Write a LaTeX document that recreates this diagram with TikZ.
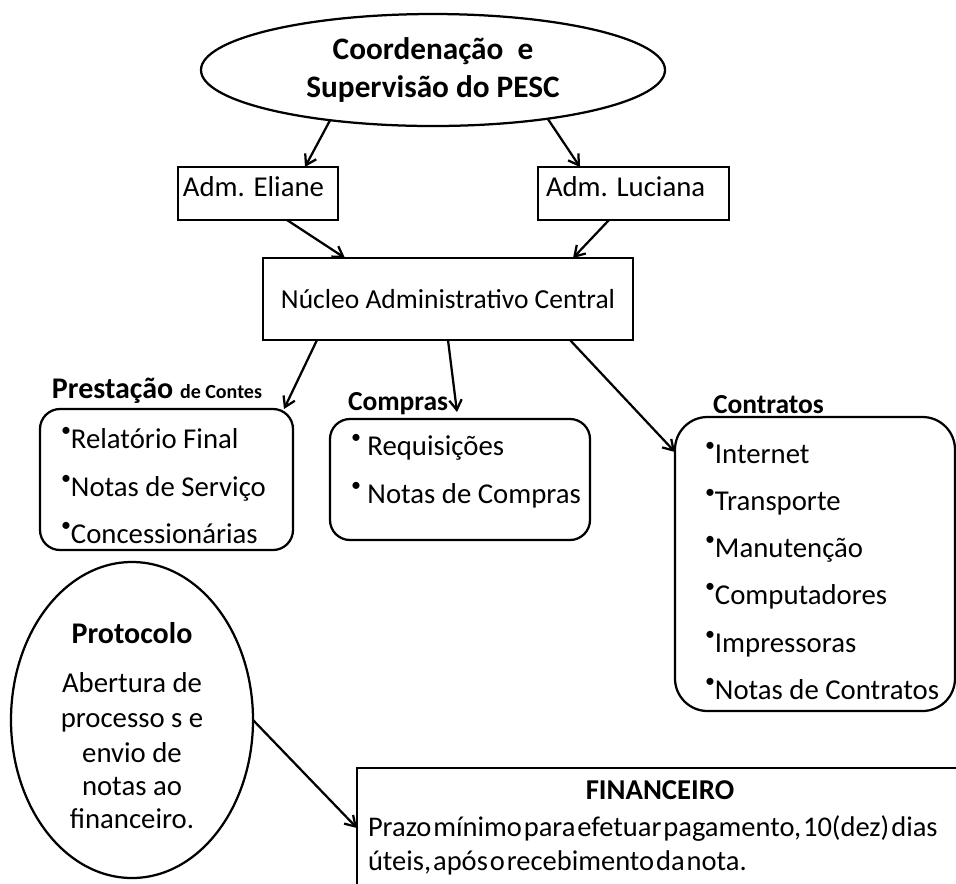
\documentclass[tikz,border=0pt]{standalone}
\usepackage{fontspec}
\setmainfont{Carlito}
\newfontfamily\tightfont[WordSpace=0.3]{Carlito}
\usetikzlibrary{shapes.geometric,arrows.meta}
\def\pxu{0.4pt}
\newcommand\mybul{{\fontsize{8pt}{8pt}\selectfont\raisebox{4.5pt}{•}}}
\begin{document}
\begin{tikzpicture}[x=0.4pt,y=-0.4pt,line width=0.9pt,
  box/.style={draw,rectangle,inner sep=0pt,outer sep=0pt},
  rbox/.style={draw,rectangle,rounded corners=#1,inner sep=0pt,outer sep=0pt},
  ell/.style={draw,ellipse,inner sep=0pt,outer sep=0pt},
  txt/.style={inner sep=0pt,outer sep=0pt,anchor=base west,font=\fontsize{11.5pt}{13.8pt}\selectfont},
  ctxt/.style={inner sep=0pt,outer sep=0pt,anchor=base,font=\fontsize{11.5pt}{13.8pt}\selectfont},
  btxt/.style={inner sep=0pt,outer sep=0pt,anchor=base west,font=\fontsize{11pt}{13.2pt}\selectfont\bfseries},
  arr/.style={-{Straight Barb[length=4pt,width=5pt]}}]
\clip (0,0) rectangle (956,883);
% top ellipse
\node[ell,minimum width=464*\pxu,minimum height=112*\pxu,align=center,
  font=\fontsize{12.5pt}{15pt}\selectfont\bfseries] (coord) at (433,70)
  {Coordenação\ \ e\\Supervisão do PESC};
% adm boxes
\node[box,minimum width=160*\pxu,minimum height=53*\pxu] (eliane) at (258,193.5) {};
\node[txt] (elianeT) at (183,196) {Adm. Eliane};
\node[box,minimum width=191*\pxu,minimum height=53*\pxu] (luciana) at (633.5,193.5) {};
\node[txt] (lucianaT) at (546,196) {Adm. Luciana};
% nucleo
\node[box,minimum width=370*\pxu,minimum height=82*\pxu,font=\fontsize{11pt}{13pt}\selectfont] (nucleo) at (448,299) {Núcleo Administrativo Central};
% prestacao
\node[btxt,font=\fontsize{12pt}{14.4pt}\selectfont\bfseries] (prestL) at (52,398) {Prestação {\fontsize{8pt}{9pt}\selectfont de Contes}};
\node[rbox=8pt,minimum width=253*\pxu,minimum height=141*\pxu] (prest) at (166.5,479.5) {};
\node[txt] (p1) at (61,448) {\mybul Relatório Final};
\node[txt] (p2) at (61,496) {\mybul Notas de Serviço};
\node[txt] (p3) at (61,543) {\mybul Concessionárias};
% compras
\node[btxt] (compL) at (348,410) {Compras};
\node[rbox=8pt,minimum width=260*\pxu,minimum height=121*\pxu] (comp) at (460,479.5) {};
\node[txt] (c1) at (351,455) {\mybul\ Requisições};
\node[txt] (c2) at (351,503) {\mybul\ Notas de Compras};
% contratos
\node[btxt] (contL) at (713,413) {Contratos};
\node[rbox=13pt,minimum width=280*\pxu,minimum height=294*\pxu] (cont) at (815,564) {};
\node[txt] (k1) at (705,463) {\mybul Internet};
\node[txt] (k2) at (705,510) {\mybul Transporte};
\node[txt] (k3) at (705,557) {\mybul Manutenção};
\node[txt] (k4) at (705,604) {\mybul Computadores};
\node[txt] (k5) at (705,652) {\mybul Impressoras};
\node[txt] (k6) at (705,699) {\mybul Notas de Contratos};
% protocolo
\node[ell,minimum width=242*\pxu,minimum height=316*\pxu] (prot) at (132,720) {};
\node[ctxt,font=\fontsize{12pt}{14.4pt}\selectfont\bfseries] (protT) at (132,643) {Protocolo};
\node[ctxt] (pr1) at (132,692) {Abertura de};
\node[ctxt] (pr2) at (132,727) {processo s e};
\node[ctxt] (pr3) at (132,762) {envio de};
\node[ctxt] (pr4) at (132,795) {notas ao};
\node[ctxt] (pr5) at (132,828) {financeiro.};
% financeiro
\node[box,minimum width=618*\pxu,minimum height=132*\pxu] (fin) at (666,834) {};
\node[ctxt,font=\fontsize{11.5pt}{13.8pt}\selectfont\bfseries] (finT) at (660,799) {FINANCEIRO};
\node[txt,font=\fontsize{11.4pt}{13.8pt}\tightfont] (f1) at (368,836) {Prazo mínimo para efetuar pagamento, 10(dez) dias};
\node[txt,font=\fontsize{11.4pt}{13.8pt}\tightfont] (f2) at (368,870) {úteis, após o recebimento da nota.};
% arrows
\draw[arr] (coord.206.3) -- ([xshift=47*\pxu]eliane.north);
\draw[arr] (coord.337.9) -- ([xshift=-53.5*\pxu]luciana.north);
\draw[arr] ([xshift=29*\pxu]eliane.south) -- ([xshift=-103*\pxu]nucleo.north);
\draw[arr] ([xshift=-24.5*\pxu]luciana.south) -- ([xshift=125*\pxu]nucleo.north);
\draw[arr] ([xshift=-131*\pxu]nucleo.south) -- ([xshift=117.5*\pxu]prest.north);
\draw[arr] (nucleo.south) -- ([xshift=-3*\pxu,yshift=7*\pxu]comp.north);
\draw[arr] ([xshift=122*\pxu]nucleo.south) -- ([yshift=112*\pxu]cont.west);
\draw[arr] (prot.east) -- ([yshift=6*\pxu]fin.west);
\end{tikzpicture}
\end{document}
